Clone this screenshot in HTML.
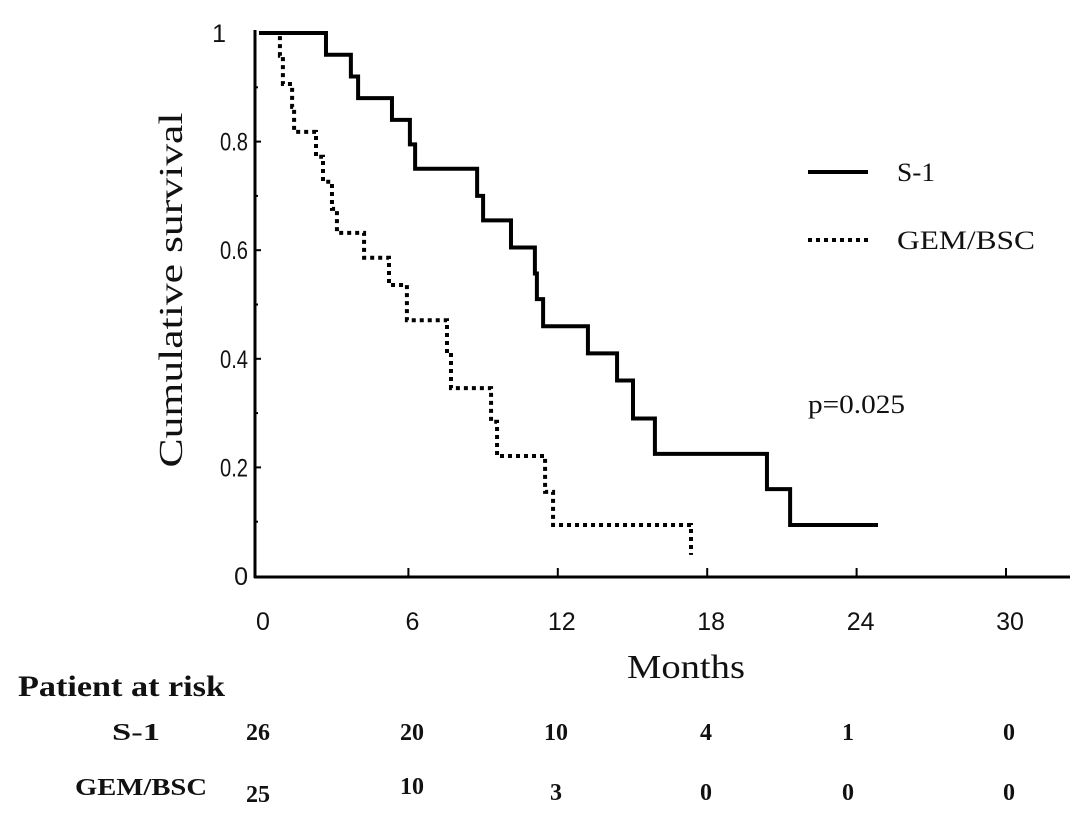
<!DOCTYPE html>
<html><head><meta charset="utf-8"><style>
body{margin:0;background:#fff}
svg{display:block}
.tk{font-family:"Liberation Sans",sans-serif;font-size:25px;fill:#111}
.sr{font-family:"Liberation Serif",serif;fill:#111}
.bd{font-family:"Liberation Serif",serif;font-weight:bold;fill:#111;font-size:24px}
</style></head><body>
<svg id="chart" width="1087" height="823">
<g id="axes"></g>
<g id="curves"></g>
<text class="sr" font-size="34" transform="translate(182,290) rotate(-90)" text-anchor="middle" textLength="355" lengthAdjust="spacingAndGlyphs">Cumulative survival</text>
<text class="sr" font-size="34" x="627" y="678" textLength="118" lengthAdjust="spacingAndGlyphs">Months</text>
<line x1="808" y1="172" x2="868" y2="172" stroke="#000" stroke-width="4"/>
<text class="sr" font-size="26" x="897" y="181" textLength="38" lengthAdjust="spacingAndGlyphs">S-1</text>
<line x1="808" y1="240" x2="868" y2="240" stroke="#000" stroke-width="4" stroke-dasharray="4 4"/>
<text class="sr" font-size="26" x="897" y="249" textLength="138" lengthAdjust="spacingAndGlyphs">GEM/BSC</text>
<text class="sr" font-size="26" x="808" y="413" textLength="97" lengthAdjust="spacingAndGlyphs">p=0.025</text>
<text class="sr" font-size="30" font-weight="bold" x="18" y="696" textLength="207" lengthAdjust="spacingAndGlyphs">Patient at risk</text>
<text class="bd" x="112" y="740" textLength="48" lengthAdjust="spacingAndGlyphs">S-1</text>
<text class="bd" x="75" y="795" textLength="132" lengthAdjust="spacingAndGlyphs">GEM/BSC</text>
<g id="risk"></g>
</svg>
<script>
const xTicks=[0,6,12,18,24,30];
const yTicks=[0,0.2,0.4,0.6,0.8,1];
const yTickLabels=["0","0.2","0.4","0.6","0.8","1"];
const s1Times=[2.69,3.69,3.98,5.34,6.06,6.27,8.76,9.0,10.12,11.08,11.16,11.41,13.21,14.38,15.02,15.9,20.4,21.33];
const s1Surv=[0.96,0.92,0.88,0.84,0.795,0.75,0.70,0.655,0.605,0.557,0.51,0.46,0.41,0.36,0.29,0.225,0.16,0.094];
const s1End=24.86;
const gemTimes=[0.84,0.96,1.33,1.41,2.29,2.57,2.93,3.13,4.22,5.22,5.94,7.55,7.71,9.32,9.56,11.49,11.81,17.35];
const gemSurv=[0.958,0.906,0.864,0.818,0.772,0.726,0.676,0.632,0.586,0.536,0.471,0.407,0.346,0.284,0.221,0.155,0.094,0.039];
const riskS1=[26,20,10,4,1,0];
const riskGem=[25,10,3,0,0,0];
const riskX=[258,412,556,706,848,1009];
const NS="http://www.w3.org/2000/svg";
const X=t=>259+t*24.9, Y=v=>576-v*543;
function mk(tag,attrs,parent){const e=document.createElementNS(NS,tag);for(const k in attrs)e.setAttribute(k,attrs[k]);parent.appendChild(e);return e;}
const ax=document.getElementById('axes');
let a=mk('line',{x1:255,y1:30,x2:255,y2:578,stroke:'#000','stroke-width':3},ax);


a=mk('line',{x1:254,y1:577,x2:1070,y2:577,stroke:'#000','stroke-width':3},ax);


for(let i=1;i<10;i++){const t=mk('line',{x1:256,y1:Y(i/10),x2:i%2==0?261:258,y2:Y(i/10),stroke:'#000','stroke-width':2},ax);

}
yTicks.forEach((v,i)=>{const t=mk('text',{x:i==5?226:248,y:Y(v)+9,'text-anchor':'end',class:'tk'},ax);t.textContent=yTickLabels[i];
if(i>0&&i<5){t.setAttribute('textLength','28');t.setAttribute('lengthAdjust','spacingAndGlyphs');}

});
xTicks.forEach(v=>{if(v>0){const l=mk('line',{x1:X(v),y1:568,x2:X(v),y2:577,stroke:'#000','stroke-width':2},ax);

}
const t=mk('text',{x:X(v)+4,y:630,'text-anchor':'middle',class:'tk'},ax);t.textContent=v;

});
function path(times,surv,end){let d=`M${X(0)},${Y(1)}`;times.forEach((t,i)=>{d+=` H${X(t)} V${Y(surv[i])}`;});if(end!=null)d+=` H${X(end)}`;return d;}
const cv=document.getElementById('curves');
let p=mk('path',{d:path(s1Times,s1Surv,s1End),fill:'none',stroke:'#000','stroke-width':4},cv);


p=mk('path',{d:path(gemTimes,gemSurv,null),fill:'none',stroke:'#000','stroke-width':4,'stroke-dasharray':'4 4'},cv);


const rk=document.getElementById('risk');
riskS1.forEach((n,i)=>{const t=mk('text',{x:riskX[i],y:740,'text-anchor':'middle',class:'bd'},rk);t.textContent=n;

});
riskGem.forEach((n,i)=>{const t=mk('text',{x:riskX[i],y:i==0?802:i==1?794:800,'text-anchor':'middle',class:'bd'},rk);t.textContent=n;

});
</script>
</body></html>
